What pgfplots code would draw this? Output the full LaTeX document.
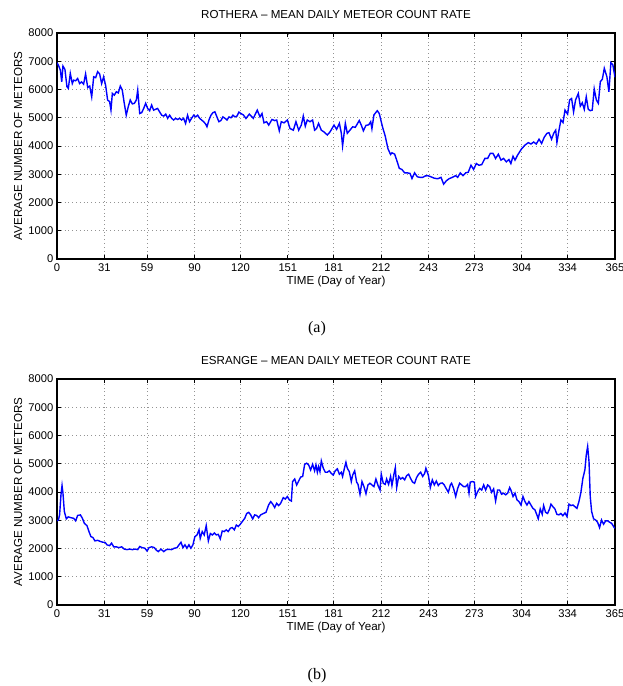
\documentclass[border=0pt]{standalone}
\usepackage{pgfplots}
\pgfplotsset{compat=1.18}
\usepackage{fontspec}
\setmainfont{Liberation Sans}
\newfontfamily\seriffont{Liberation Serif}

\pgfplotsset{mystyle/.style={
  scale only axis, width=558pt, height=226pt,
  xmin=0, xmax=365, ymin=0, ymax=8000,
  xtick={0,31,59,90,120,151,181,212,243,273,304,334,365},
  ytick={0,1000,2000,3000,4000,5000,6000,7000,8000},
  grid=major,
  major grid style={dash pattern=on 0.8pt off 3pt, gray!85, line width=0.6pt},
  axis line style={line width=1.2pt},
  tick style={black, line width=0.7pt},
  major tick length=4pt,
  tick align=inside,
  ticklabel style={font=\fontsize{11.2}{13}\selectfont},
  /pgf/number format/assume math mode=true,
  /pgf/number format/1000 sep={},
  scaled ticks=false,
  xticklabel style={inner sep=0pt, anchor=north, yshift=-4.5pt},
  yticklabel style={inner sep=0pt, anchor=east, xshift=-3.5pt},
  label style={font=\fontsize{11.6}{13}\selectfont},
  xlabel={TIME (Day of Year)},
  xlabel style={at={(axis description cs:0.5,0)}, anchor=base, yshift=-26pt, inner sep=0pt},
  ylabel={AVERAGE NUMBER OF METEORS},
  ylabel style={at={(axis description cs:-0.0627,0.5)}, anchor=base, inner sep=0pt},
  title style={at={(axis description cs:0.5,1)}, anchor=base, yshift=9pt, inner sep=0pt, font=\fontsize{11.6}{13}\selectfont},
}}

\begin{document}
\begin{tikzpicture}
\useasboundingbox (0,0) rectangle (623pt,686pt);

\begin{axis}[mystyle, at={(57pt,427pt)}, anchor=south west,
  title={ROTHERA – MEAN DAILY METEOR COUNT RATE}]
\addplot[blue, line width=1.4pt, no markers] coordinates {
(0,6950) (0.9,6860) (2.2,6690) (3.1,6270) (3.9,6830) (5.2,6710) (6.5,6100) (7.4,6040) (8.7,6570) (10.0,6210) (10.9,6330) (12.2,6310) (13.5,6390) (14.8,6210) (16.1,6270) (17.4,6190) (18.7,6550) (20.1,6070) (21.4,6120) (22.7,5740) (24.0,6450) (25.3,6420) (26.6,6630) (27.9,6550) (29.2,6210) (30.5,6450) (31.8,6150) (33.1,5630) (34.4,5570) (35.3,5270) (36.2,5860) (37.5,5800) (38.8,5920) (40.1,5880) (41.4,6120) (42.7,5980) (44.0,5510) (45.3,5090) (46.6,5390) (47.9,5630) (49.3,5490) (50.6,5510) (51.9,5630) (52.8,5980) (54.1,5150) (55.4,5180) (56.7,5330) (58.0,5510) (59.3,5330) (60.6,5250) (61.9,5450) (63.2,5270) (64.5,5300) (65.8,5330) (67.1,5210) (68.5,5090) (69.8,5060) (71.1,5130) (72.4,4980) (73.7,5090) (75.0,4980) (76.3,4920) (77.6,4980) (78.9,4940) (80.2,4980) (81.5,4920) (82.8,4980) (84.1,4800) (85.4,5090) (86.7,4860) (88.0,4980) (89.4,5090) (90.7,5030) (92.0,5090) (93.3,4980) (94.6,4920) (95.9,4860) (97.2,4780) (98.1,4680) (99.4,4920) (100.7,5090) (102.0,5180) (103.3,5210) (104.6,5030) (105.9,4860) (107.2,4900) (108.5,5030) (109.9,4980) (111.2,4920) (112.5,5030) (113.8,5000) (115.1,5090) (116.4,5030) (117.7,5060) (119.0,5200) (120.3,5150)
(121.9,5100) (123.6,4975) (125.8,5130) (128.4,4980) (131.0,5270) (132.8,5030) (134.1,5150) (135.4,4820) (137.1,4860) (138.5,4740) (140.6,4940) (142.4,4900) (143.7,4920) (145.4,4540) (146.7,4860) (148.5,4820) (150.7,4920) (152.4,4620) (154.6,4560) (156.3,4860) (158.1,4560) (159.8,4740) (161.1,5060) (162.4,4700) (163.7,4920) (165.5,4860) (167.2,4920) (168.5,4560) (169.8,4620) (171.1,4800) (172.9,4560) (174.6,4500) (176.8,4390) (178.6,4500) (181.2,4740) (182.9,4590) (184.7,4800) (186.0,4450) (186.8,4000) (188.6,4800) (189.9,4450) (191.6,4560) (193.4,4680) (195.1,4660) (196.4,4780) (197.7,4900) (199.1,4730) (200.4,4540) (202.1,4730) (203.9,4750) (205.2,4860) (206.0,4610) (207.3,5100) (209.5,5250) (210.8,5150) (213.0,4660) (214.7,4350) (216.5,3900) (218.2,3700) (219.1,3760) (220.9,3710) (222.2,3500) (223.9,3210) (225.6,3170) (227.4,3050) (229.1,3050) (230.9,3030) (232.2,2850) (233.9,3050) (235.7,2910) (237.4,2890) (239.2,2890) (240.9,2940)
(242.4,2950) (244.6,2910) (246.8,2860) (249.0,2840) (251.2,2890) (252.9,2650) (254.7,2770) (256.4,2840) (258.6,2890) (260.8,2950) (262.1,2890) (263.8,3050) (265.6,2950) (267.3,3050) (269.0,3070) (270.8,3320) (272.5,3170) (274.3,3380) (276.0,3320) (277.8,3340) (279.9,3560) (281.7,3560) (283.4,3740) (285.2,3740) (286.9,3560) (288.7,3710) (290.4,3500) (292.1,3560) (293.9,3440) (295.6,3520) (296.9,3380) (298.3,3640) (299.6,3500) (301.3,3680) (303.9,3900) (306.1,4030) (308.3,4120) (310.0,4070) (311.8,4140) (313.5,4070) (315.3,4240) (317.0,4090) (318.7,4310) (320.5,4450) (321.8,4470) (323.5,4240) (324.9,4450) (326.2,4560) (327.0,4120) (328.3,4540) (329.6,4920) (331.0,4830) (332.3,5270) (334.0,5130) (335.3,5630) (336.6,5680) (337.9,5210) (339.2,5630) (341.0,5860) (342.3,5410) (343.6,5530) (344.9,5300) (346.2,5740) (347.5,5300) (348.8,5250) (350.1,5270) (351.4,6020) (352.8,5630) (354.1,5510) (355.4,6280) (356.7,6360) (358.0,6750) (359.7,6450) (361.0,5920) (362.3,6950) (363.6,6870) (365.0,6430)
};
\end{axis}

\begin{axis}[mystyle, at={(57pt,81pt)}, anchor=south west,
  title={ESRANGE – MEAN DAILY METEOR COUNT RATE}]
\addplot[blue, line width=1.4pt, no markers] coordinates {
(0,2980) (0.9,3010) (1.7,3190) (2.6,3900) (3.3,4230) (3.9,3960) (4.8,3310) (6.1,3050) (7.4,3120) (9.1,3090) (10.9,3070) (12.2,2980) (13.5,3170) (15.3,3190) (16.6,3070) (17.9,2890) (19.6,2810) (20.9,2600) (22.2,2420) (23.5,2390) (24.8,2270) (26.6,2290) (28.3,2250) (30.1,2220) (31.4,2220) (32.7,2130) (34.4,2100) (35.7,2190) (37.1,2060) (38.8,2060) (40.5,2030) (42.3,2060) (44.0,1980) (45.8,1960) (47.5,1980) (49.3,1960) (51.0,1980) (52.8,1960) (54.1,2070) (55.8,2030) (57.5,2010) (58.9,1910) (60.2,2030) (61.9,2060) (63.7,2030) (65.0,1940) (66.3,1890) (68.0,1980) (69.8,1890) (71.5,1960) (73.2,1970) (75.0,1960) (76.7,2010) (78.5,2030) (79.8,2130) (81.1,2220) (82.4,2030) (83.7,2130) (85.0,2010) (86.3,2130) (87.6,2010) (88.9,2130) (90.2,2420) (91.6,2480) (92.9,2660) (93.7,2360) (95.0,2600) (96.3,2480) (97.6,2810) (99.0,2270) (100.3,2530) (101.6,2480) (102.9,2550) (104.2,2480) (105.5,2500) (106.8,2340) (108.1,2620) (109.4,2600) (110.7,2660) (112.0,2600) (113.4,2720) (114.7,2740) (116.0,2660) (117.3,2830) (118.6,2780) (119.9,2860)
(122.8,3070) (124.1,3240) (125.4,3280) (126.7,3190) (128.0,3050) (129.3,3190) (130.6,3170) (131.9,3090) (133.2,3190) (135.0,3240) (136.7,3280) (138.4,3540) (139.8,3660) (141.1,3570) (142.4,3450) (143.7,3600) (145.0,3520) (146.3,3600) (148.0,3800) (149.3,3750) (150.7,3840) (152.0,3720) (153.3,3680) (154.1,4370) (155.5,4460) (156.8,4250) (158.1,4390) (159.4,4530) (160.7,4550) (162.0,4980) (163.3,5020) (164.6,4960) (165.9,4780) (167.2,4980) (168.5,4750) (169.4,4960) (170.3,4700) (171.1,4900) (172.0,4720) (172.9,5100) (174.2,4840) (175.5,4700) (176.8,4700) (178.1,4750) (179.4,4660) (180.7,4600) (182.0,4750) (183.4,4820) (184.7,4630) (186.0,4700) (186.8,4550) (188.1,4860) (189.0,5050) (189.9,4840) (191.2,4720) (192.5,4370) (193.4,4600) (194.7,4750) (196.0,4350) (196.9,4270) (198.2,3920) (199.5,4370) (200.8,4190) (202.1,3940) (203.4,4250) (204.7,4310) (206.0,4250) (207.3,4190) (208.6,4460) (210.0,4230) (211.3,4070) (212.1,4630) (213.4,4310) (214.7,4270) (215.6,4460) (216.9,4270) (218.2,4550) (219.1,4230) (220.4,4630) (221.3,4860) (222.2,4160) (223.5,4550) (224.8,4460) (226.1,4510) (227.4,4430) (228.7,4580) (230.0,4630) (231.3,4480) (232.6,4350) (233.9,4310) (235.2,4510) (236.5,4630) (237.9,4700) (239.2,4550) (240.5,4660) (241.3,4840)
(242.9,4600) (244.2,4160) (245.5,4430) (246.8,4250) (248.1,4390) (249.4,4230) (250.7,4310) (252.0,4320) (253.3,4250) (254.7,4110) (256.0,3990) (257.3,4250) (258.1,4310) (259.4,4130) (260.8,3840) (262.1,4130) (263.4,4310) (264.7,4250) (266.0,4190) (267.3,4190) (268.6,4270) (269.5,3960) (270.3,4350) (271.7,4370) (273.0,4350) (273.8,3840) (275.1,4010) (276.5,4130) (277.8,4070) (279.1,4250) (280.4,4070) (281.7,4250) (283.0,4190) (284.3,3990) (285.6,4110) (286.9,3680) (288.2,4070) (289.5,4070) (290.8,3920) (292.1,3960) (293.5,3900) (294.8,3960) (296.1,4160) (296.9,4070) (298.3,3840) (299.6,3960) (300.9,3720) (302.2,3660) (303.5,3540) (304.8,3840) (306.1,3660) (307.4,3540) (308.7,3660) (310.0,3540) (311.3,3420) (312.6,3370) (313.9,3190) (314.8,3050) (316.1,3400) (317.4,3210) (318.3,3520) (319.6,3280) (320.9,3240) (322.2,3400) (323.1,3570) (324.4,3480) (325.7,3400) (327.0,3210) (328.3,3190) (329.6,3240) (330.9,3160) (332.3,3260) (333.6,3130) (334.9,3570) (336.2,3520) (337.5,3540) (338.8,3480) (340.1,3420) (341.4,3660) (342.7,3990) (344.0,4490) (345.3,4780) (346.2,5310) (347.1,5610) (348.0,5080) (348.8,3840) (349.7,3310) (351.0,3050) (352.3,3010) (353.6,2930) (354.9,2740) (356.2,3010) (357.5,2860) (358.9,2980) (360.2,2980) (361.5,2930) (362.8,2890) (364.5,2740) (365,2720)
};
\end{axis}

\node[font=\seriffont\fontsize{16}{18}\selectfont, anchor=base, inner sep=0pt] at (317pt,353pt) {(a)};
\node[font=\seriffont\fontsize{16}{18}\selectfont, anchor=base, inner sep=0pt] at (317pt,6pt) {(b)};
\end{tikzpicture}
\end{document}
